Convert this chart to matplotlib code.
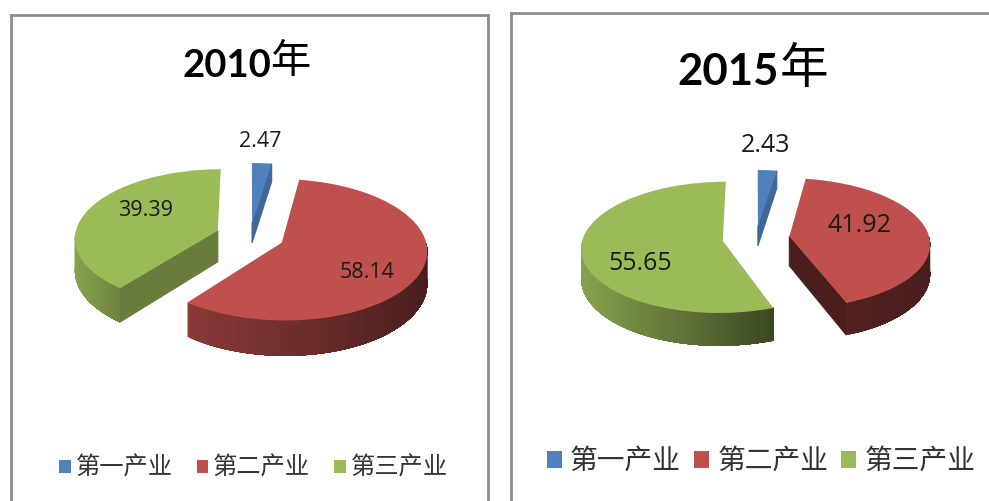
"""Two exploded pseudo-3D pies: output by sector, 2010 vs 2015."""
import numpy as np
import matplotlib
matplotlib.use("Agg")
import matplotlib.pyplot as plt
from matplotlib.transforms import Transform

W, H = 989, 501
CJK = ["Noto Sans CJK SC", "DejaVu Sans"]

categories = ["第一产业", "第二产业", "第三产业"]
values_2010 = [2.47, 58.14, 39.39]
values_2015 = [2.43, 41.92, 55.65]
colors = ["#4F81BD", "#C0504D", "#9BBB59"]

PERSP = 0.10   # back of the disc is smaller than the front


def scale(y):
    return 1 / (1 + PERSP * y)


def project(x, y, flat):
    s = scale(y)
    return x * s, flat * y * s


class Tilt(Transform):
    input_dims = output_dims = 2
    is_affine = False

    def __init__(self, flat):
        super().__init__()
        self.flat = flat

    def transform_non_affine(self, xy):
        xy = np.asarray(xy, dtype=float)
        return np.column_stack(project(xy[:, 0], xy[:, 1], self.flat))


def shade(color, k):
    return tuple(c * k for c in matplotlib.colors.to_rgb(color))


def side_quad(ax, xs, ys, color, flat, depth, lw=0):
    """Extrude a run of points on the disc downwards and fill it."""
    px, py = project(xs, ys, flat)
    low = py - depth * scale(ys)
    ax.fill(np.r_[px, px[::-1]], np.r_[py, low[::-1]], color=color, lw=lw, zorder=2)


def draw_walls(ax, wedge, color, light, dark, face, flat, depth):
    cx, cy = wedge.center
    t1, t2 = wedge.theta1, wedge.theta2
    # flat cut faces, only the ones turned to the viewer
    for t, n in ((t1, t1 - 90), (t2, t2 + 90)):
        if np.sin(np.radians(n)) < -0.02:
            a = np.radians(t)
            side_quad(ax, np.array([cx, cx + np.cos(a)]), np.array([cy, cy + np.sin(a)]),
                      shade(color, face), flat, depth, lw=0.8)
    # round outer wall, shaded left to right; each strip runs to the end of the
    # wall and the next one paints over it, so no seams show between strips
    th = np.radians(np.linspace(t1, t2, 200))
    th = th[np.sin(th) < 0]
    if len(th) < 2:
        return
    xs, ys = cx + np.cos(th), cy + np.sin(th)
    px = project(xs, ys, flat)[0]
    for i in range(len(th) - 1):
        u = (px[i] - px.min()) / (px.max() - px.min())
        side_quad(ax, xs[i:], ys[i:], shade(color, light + (dark - light) * u), flat, depth)


def draw_panel(fig, box, center, rx, values, explode, light, dark, face, flat, depth):
    x0, y0, x1, y1 = box
    ax = fig.add_axes([x0 / W, 1 - y1 / H, (x1 - x0) / W, (y1 - y0) / H])
    wedges, _ = ax.pie(values, colors=colors, explode=explode, startangle=90, counterclock=False,
                       radius=1, wedgeprops={"lw": 0, "zorder": 3})
    tilt = Tilt(flat)
    for w, c, li, da, fa, d in zip(wedges, colors, light, dark, face, depth):
        w.set_transform(tilt + ax.transData)
        draw_walls(ax, w, c, li, da, fa, flat, d)
    ax.set_aspect("auto")
    ax.set_xlim((x0 - center[0]) / rx, (x1 - center[0]) / rx)
    ax.set_ylim((center[1] - y1) / rx, (center[1] - y0) / rx)
    ax.set_frame_on(True)
    for s in ax.spines.values():
        s.set_color("#8c8c8c")
        s.set_linewidth(2.0)
    return wedges


def px_text(fig, x, y, s, **kw):
    fig.text(x / W, 1 - y / H, s, va="center", **kw)


def main():
    fig = plt.figure(figsize=(W / 100, H / 100), dpi=100)

    # 2010
    wedges = draw_panel(fig, (11, 15, 488, 520), (250, 236), 143, values_2010,
                        [0.19, 0.24, 0.24], [0.7, 0.72, 0.87], [0.38, 0.38, 0.7], [0.8, 0.4, 0.67],
                        0.48, [0.14, 0.22, 0.22])
    px_text(fig, 271, 66, "2010", ha="right", family="Lato", weight="bold", fontsize=27.5, color="black")
    px_text(fig, 270, 62, "年", ha="left", family=CJK, fontsize=29, color="black")
    for x, y, v in zip((260, 367, 146), (142, 272, 210), values_2010):
        px_text(fig, x, y, f"{v:.2f}", ha="center", family="Open Sans", fontsize=15.5, color="#1a1a1a")
    fig.legend(wedges, categories, loc="center", bbox_to_anchor=(253.5 / W, 1 - 468 / H), ncol=3,
               frameon=False, prop={"family": CJK, "size": 17.5}, handlelength=0.47, handleheight=0.47,
               handletextpad=0.2, columnspacing=1.0, borderpad=0, labelcolor="#333333")

    # 2015
    wedges = draw_panel(fig, (511, 13, 1010, 520), (756, 238), 140, values_2015,
                        [0.18, 0.24, 0.24], [0.7, 0.42, 0.87], [0.38, 0.38, 0.38], [0.8, 0.38, 0.6],
                        0.46, [0.14, 0.21, 0.21])
    px_text(fig, 779, 72, "2015", ha="right", family="Lato", weight="bold", fontsize=31.5, color="black")
    px_text(fig, 780, 69, "年", ha="left", family=CJK, fontsize=35, color="black")
    for x, y, v in zip((766, 859, 640), (146, 226, 263), values_2015):
        px_text(fig, x, y, f"{v:.2f}", ha="center", family="Open Sans", fontsize=18, color="#1a1a1a")
    fig.legend(wedges, categories, loc="center", bbox_to_anchor=(761 / W, 1 - 461 / H), ncol=3,
               frameon=False, prop={"family": CJK, "size": 20}, handlelength=0.55, handleheight=0.55,
               handletextpad=0.3, columnspacing=0.45, borderpad=0, labelcolor="#333333")

    fig.savefig("out.png", dpi=100)


if __name__ == "__main__":
    main()
